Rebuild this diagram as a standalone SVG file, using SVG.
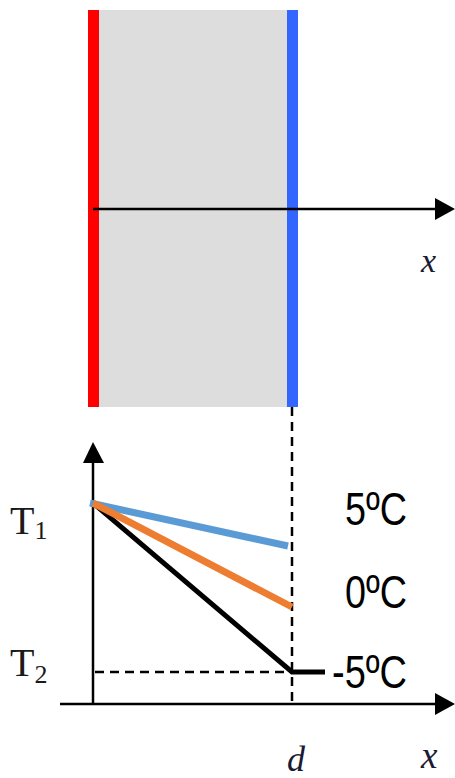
<svg xmlns="http://www.w3.org/2000/svg" width="455" height="778" viewBox="0 0 455 778">
<style>
.ax{stroke:#000;stroke-width:2.5;fill:none}
.dash{stroke:#000;stroke-width:2.5;stroke-dasharray:9,6;fill:none}
.head{fill:#000}
.cel{font-family:"Liberation Sans",Arial,sans-serif;font-size:47px;fill:#000}
.tl{font-family:"Liberation Serif","Times New Roman",serif;fill:#1a1a1a}
.var{font-family:"Liberation Serif","Times New Roman",serif;font-style:italic;fill:#1a1a33}
</style>
<rect width="455" height="778" fill="#fff"/>
<g id="slab">
<rect x="88" y="10" width="210" height="397" fill="#dddddd"/>
<rect x="88" y="10" width="11" height="397" fill="#ff0000"/>
<rect x="287" y="10" width="11" height="397" fill="#3366ff"/>
</g>
<g id="connectors">
<line class="ax" x1="93" y1="209" x2="437" y2="209"/>
<polygon class="head" points="455,209 435,198 435,220"/>
<line class="ax" x1="93" y1="704" x2="93" y2="460"/>
<polygon class="head" points="93,442 83,463 104,463"/>
<line class="ax" x1="60" y1="704" x2="437" y2="704"/>
<polygon class="head" points="455,704 435,693 435,715"/>
<line class="dash" x1="292" y1="407" x2="292" y2="704"/>
<line class="dash" x1="95" y1="672" x2="292" y2="672"/>
<polyline points="93,503 292,672 325,672" stroke="#000" stroke-width="5" fill="none"/>
<line x1="90" y1="503" x2="288" y2="546" stroke="#5b9bd5" stroke-width="7"/>
<line x1="93" y1="503" x2="292" y2="607" stroke="#ed7d31" stroke-width="7"/>
</g>
<g id="labels">
<text class="var" x="421" y="272" font-size="34">x</text>
<text class="tl" x="10" y="534" font-size="40">T<tspan font-size="26" dy="5">1</tspan></text>
<text class="tl" x="10" y="676" font-size="40">T<tspan font-size="26" dy="7">2</tspan></text>
<text class="cel" x="345" y="525" textLength="62" lengthAdjust="spacingAndGlyphs">5ºC</text>
<text class="cel" x="345" y="608" textLength="62" lengthAdjust="spacingAndGlyphs">0ºC</text>
<text class="cel" x="332" y="688" textLength="75" lengthAdjust="spacingAndGlyphs">-5ºC</text>
<text class="var" x="287" y="771" font-size="36">d</text>
<text class="var" x="421" y="768" font-size="37">x</text>
</g>
</svg>
